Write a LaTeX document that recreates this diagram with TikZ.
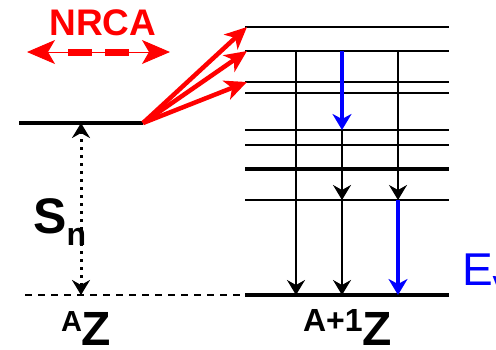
\documentclass[tikz,border=0pt]{standalone}
\usepackage{fontspec}
\setmainfont{Liberation Sans}
\usepackage{xcolor}
\usepackage{tikz}
\usetikzlibrary{arrows.meta}
\definecolor{rojonrca}{RGB}{255,0,0}
\definecolor{azulgamma}{RGB}{0,0,255}

\begin{document}
\begin{tikzpicture}[x=1pt, y=-1pt, >={Stealth[length=15pt,width=18pt,inset=5pt]}, line width=2pt]
    \useasboundingbox (0,0) rectangle (496,349);
    % niveles de ^AZ: estado capturado y base (a trazos)
    \draw[line width=4pt] (19,123) coordinate (capL) -- (143,123) coordinate (capR);
    \draw[line width=1.8pt, dash pattern=on 7pt off 6pt] (25,295) coordinate (gsL) -- (247,295);
    \coordinate (capSn) at (81,123); \coordinate (gsSn) at (81,295);
    \draw[<->, line width=3pt, dash pattern=on 3pt off 5pt] (gsSn) -- (capSn);
    \node[anchor=base west, font=\bfseries\fontsize{50}{50}\selectfont] (sn) at (29,233)
        {S\raisebox{-12pt}{\fontsize{32}{32}\selectfont n}};
    \node[anchor=base west, inner sep=0pt, font=\bfseries] (az) at (60,345)
        {\raisebox{14pt}{\fontsize{29}{29}\selectfont A}\fontsize{48}{48}\selectfont Z};
    % NRCA
    \node[rojonrca, font=\bfseries\fontsize{37}{37}\selectfont] (nrca) at (103,23) {NRCA};
    \coordinate (nrL) at (27,52); \coordinate (nrR) at (170,52);
    \draw[rojonrca, line width=1pt, {Stealth[length=28pt,width=24pt,inset=7pt]}-{Stealth[length=28pt,width=24pt,inset=7pt]}] (nrL) -- (nrR);
    \draw[rojonrca, line width=7pt, dash pattern=on 24pt off 13pt] (68,52) -- (129,52);
    % niveles de ^{A+1}Z
    \foreach \y/\n in {27/l1,51/l2,82/l3,93/l4,130/l5,145/l6,200/l8}
        \draw (245,\y) coordinate (\n) -- (449,\y);
    \foreach \y/\n in {169/l7,295/l0}
        \draw[line width=4pt] (245,\y) coordinate (\n) -- (449,\y);
    % captura del neutron (rojo)
    \foreach \n in {l1,l2,l3}
        \draw[rojonrca, line width=4.5pt, -{Stealth[length=22pt,width=20pt,inset=6pt]}] (capR) -- ([xshift=2pt]\n);
    % cascada gamma
    \coordinate (a2) at (296,51);  \coordinate (a0) at (296,295);
    \coordinate (b2) at (342,51);  \coordinate (b5) at (342,130);
    \coordinate (b8) at (342,200); \coordinate (b0) at (342,295);
    \coordinate (c2) at (398,51);  \coordinate (c8) at (398,200);
    \coordinate (c0) at (398,295);
    \draw[->] (a2) -- (a0);
    \draw[azulgamma, line width=4pt, -{Stealth[length=16pt,width=19pt,inset=5pt]}] (b2) -- (b5);
    \draw[->] (b5) -- (b8);
    \draw[->] (b8) -- (b0);
    \draw[->] (c2) -- (c8);
    \draw[azulgamma, line width=3.5pt, -{Stealth[length=16pt,width=19pt,inset=5pt]}] (c8) -- (c0);
    \node[azulgamma, anchor=base west, inner sep=0pt, font=\fontsize{46}{46}\selectfont] (egamma) at (461,285)
        {E\textsubscript{γ}};
    \node[anchor=base west, inner sep=0pt, font=\bfseries] (a1z) at (302,345)
        {\raisebox{14pt}{\fontsize{32}{32}\selectfont A+1}\fontsize{48}{48}\selectfont Z};
\end{tikzpicture}
\end{document}
